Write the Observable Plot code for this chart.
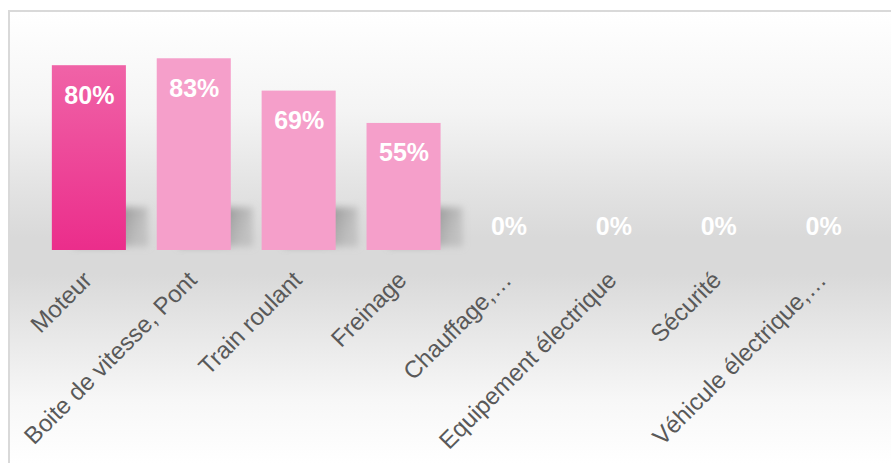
<!DOCTYPE html>
<html>
<head>
<meta charset="utf-8">
<script src="https://cdn.jsdelivr.net/npm/d3@7"></script>
<script src="https://cdn.jsdelivr.net/npm/@observablehq/plot@0.6"></script>
<style>
  html, body { margin: 0; padding: 0; background: #ffffff; }
  #frame {
    position: absolute; left: 8px; top: 10px; width: 881px; height: 451px;
    border-top: 2px solid #d9d9d9; border-left: 2px solid #d9d9d9;
    background: linear-gradient(to bottom, #ffffff 0%, #f4f4f4 22%, #e2e2e2 40%, #d9d9d9 50%, #d9d9d9 58%, #e6e6e6 70%, #f7f7f7 86%, #ffffff 100%);
  }
  #chart { position: absolute; left: 0; top: 0; }
</style>
</head>
<body>
<div id="frame"></div>
<div id="chart"></div>
<script>
const categories = ["Moteur", "Boite de vitesse, Pont", "Train roulant", "Freinage", "Chauffage,…", "Equipement électrique", "Sécurité", "Véhicule électrique,…"];
const values = [80, 83, 69, 55, 0, 0, 0, 0];
const highlight = "Moteur";

const data = categories.map((c, i) => ({cat: c, value: values[i]}));
const nonzero = data.filter(d => d.value > 0);
const zero = data.filter(d => d.value === 0);

const svg = Plot.plot({
  width: 891,
  height: 463,
  marginLeft: 21,
  marginRight: 0,
  marginTop: 19,
  marginBottom: 213,
  style: {background: "transparent", fontFamily: "'Liberation Sans', Arial, sans-serif"},
  x: {domain: categories, padding: 0.294, round: false, axis: null},
  y: {domain: [0, 100], axis: null},
  marks: [
    Plot.barY(nonzero, {x: "cat", y1: 1.5, y2: 18.5, dx: 22, fill: "url(#shadowGrad)"}),
    Plot.barY(data, {x: "cat", y: "value", fill: d => d.cat === highlight ? "url(#hiGrad)" : "#f59fca"}),
    Plot.text(nonzero, {x: "cat", y: "value", text: d => d.value + "%", dy: 30, lineAnchor: "middle", fill: "#ffffff", fontSize: 25, fontWeight: "bold"}),
    Plot.text(zero, {x: "cat", y: "value", text: d => d.value + "%", dy: -24, lineAnchor: "middle", fill: "#ffffff", fontSize: 25, fontWeight: "bold"}),
    Plot.text(data, {x: "cat", y: () => 0, text: "cat", dx: 4, dy: 31, rotate: -45, textAnchor: "end", lineAnchor: "bottom", fill: "#595959", fontSize: 24})
  ]
});

const s = d3.select(svg);
const defs = s.insert("defs", ":first-child");
const hi = defs.append("linearGradient").attr("id", "hiGrad").attr("x1", 0).attr("y1", 0).attr("x2", 0).attr("y2", 1);
hi.append("stop").attr("offset", "0%").attr("stop-color", "#f063a7");
hi.append("stop").attr("offset", "100%").attr("stop-color", "#eb2d8b");
const sh = defs.append("linearGradient").attr("id", "shadowGrad").attr("x1", 0).attr("y1", 0).attr("x2", 1).attr("y2", 0.2);
sh.append("stop").attr("offset", "0%").attr("stop-color", "#8e8e8e").attr("stop-opacity", 1);
sh.append("stop").attr("offset", "60%").attr("stop-color", "#949494").attr("stop-opacity", 1);
sh.append("stop").attr("offset", "100%").attr("stop-color", "#a8a8a8").attr("stop-opacity", 0.5);
const flt = defs.append("filter").attr("id", "blurF")
  .attr("filterUnits", "userSpaceOnUse").attr("x", 0).attr("y", 0).attr("width", 891).attr("height", 463);
flt.append("feGaussianBlur").attr("stdDeviation", 3.5);
s.selectAll("g").filter(function() { return this.getAttribute("fill") === "url(#shadowGrad)"; })
  .attr("filter", "url(#blurF)");

document.getElementById("chart").appendChild(svg);
</script>
</body>
</html>
